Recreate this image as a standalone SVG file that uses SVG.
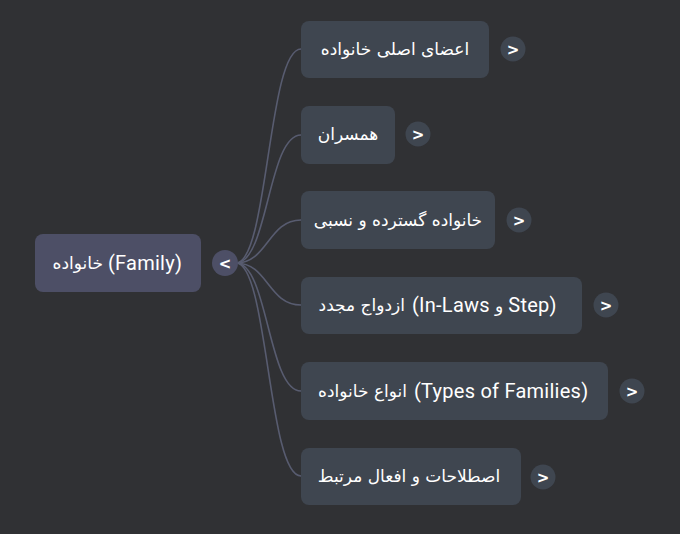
<svg xmlns="http://www.w3.org/2000/svg" width="680" height="534" viewBox="0 0 680 534">
<style>
.bg{fill:#303134}
.node{fill:#3f4650}
.root{fill:#4d4f66}
.fa{font-family:"DejaVu Sans",sans-serif;font-size:17px;fill:#ffffff;direction:rtl}
.la{font-family:Roboto,"DejaVu Sans",sans-serif;font-size:20px;letter-spacing:0.25px;fill:#ffffff;direction:ltr}
.mid{text-anchor:middle}
.btn{fill:#3f4650}
.rbtn{fill:#4d4f66}
.chev{font-family:"DejaVu Sans",sans-serif;font-size:15px;font-weight:bold;fill:#ffffff;text-anchor:middle}
.link{fill:none;stroke:#585c70;stroke-width:1.6}
</style>
<rect class="bg" x="0" y="0" width="680" height="534"/>
<g id="connectors">
<path class="link" d="M236,263 C268,263 268,49 301,49"/>
<path class="link" d="M236,263 C268,263 268,135 301,135"/>
<path class="link" d="M236,263 C268,263 268,220 301,220"/>
<path class="link" d="M236,263 C268,263 268,305 301,305"/>
<path class="link" d="M236,263 C268,263 268,391 301,391"/>
<path class="link" d="M236,263 C268,263 268,476 301,476"/>
</g>
<g id="root">
<rect class="root" x="35" y="234" width="166" height="58" rx="8"/>
<text class="fa" x="103" y="269" text-anchor="start">خانواده</text>
<text class="la" x="108" y="270">(Family)</text>
<circle class="rbtn" cx="225" cy="263" r="13"/>
<text class="chev" x="225" y="268.5">&lt;</text>
</g>
<g id="n1">
<rect class="node" x="301" y="21" width="188" height="57" rx="8"/>
<text class="fa mid" x="395" y="55">اعضای اصلی خانواده</text>
<circle class="btn" cx="513" cy="49" r="12.5"/>
<text class="chev" x="513" y="54.5">&gt;</text>
</g>
<g id="n2">
<rect class="node" x="301" y="106" width="94" height="58" rx="8"/>
<text class="fa mid" x="348" y="140">همسران</text>
<circle class="btn" cx="418" cy="134" r="12.5"/>
<text class="chev" x="418" y="139.5">&gt;</text>
</g>
<g id="n3">
<rect class="node" x="301" y="191" width="194" height="58" rx="8"/>
<text class="fa mid" x="398" y="226">خانواده گسترده و نسبی</text>
<circle class="btn" cx="519" cy="220" r="12.5"/>
<text class="chev" x="519" y="225.5">&gt;</text>
</g>
<g id="n4">
<rect class="node" x="301" y="277" width="281" height="57" rx="8"/>
<text class="fa" x="405" y="311" text-anchor="start">ازدواج مجدد</text>
<text class="la" x="412" y="312">(In-Laws <tspan style="font-family:'DejaVu Sans',sans-serif;font-size:17px">و</tspan> Step)</text>
<circle class="btn" cx="606" cy="305" r="12.5"/>
<text class="chev" x="606" y="310.5">&gt;</text>
</g>
<g id="n5">
<rect class="node" x="301" y="362" width="307" height="58" rx="8"/>
<text class="fa" x="407" y="397" text-anchor="start">انواع خانواده</text>
<text class="la" x="414" y="398">(Types of Families)</text>
<circle class="btn" cx="632" cy="391" r="12.5"/>
<text class="chev" x="632" y="396.5">&gt;</text>
</g>
<g id="n6">
<rect class="node" x="301" y="448" width="220" height="57" rx="8"/>
<text class="fa mid" x="409" y="482">اصطلاحات و افعال مرتبط</text>
<circle class="btn" cx="543" cy="477" r="12.5"/>
<text class="chev" x="543" y="482.5">&gt;</text>
</g>
</svg>
